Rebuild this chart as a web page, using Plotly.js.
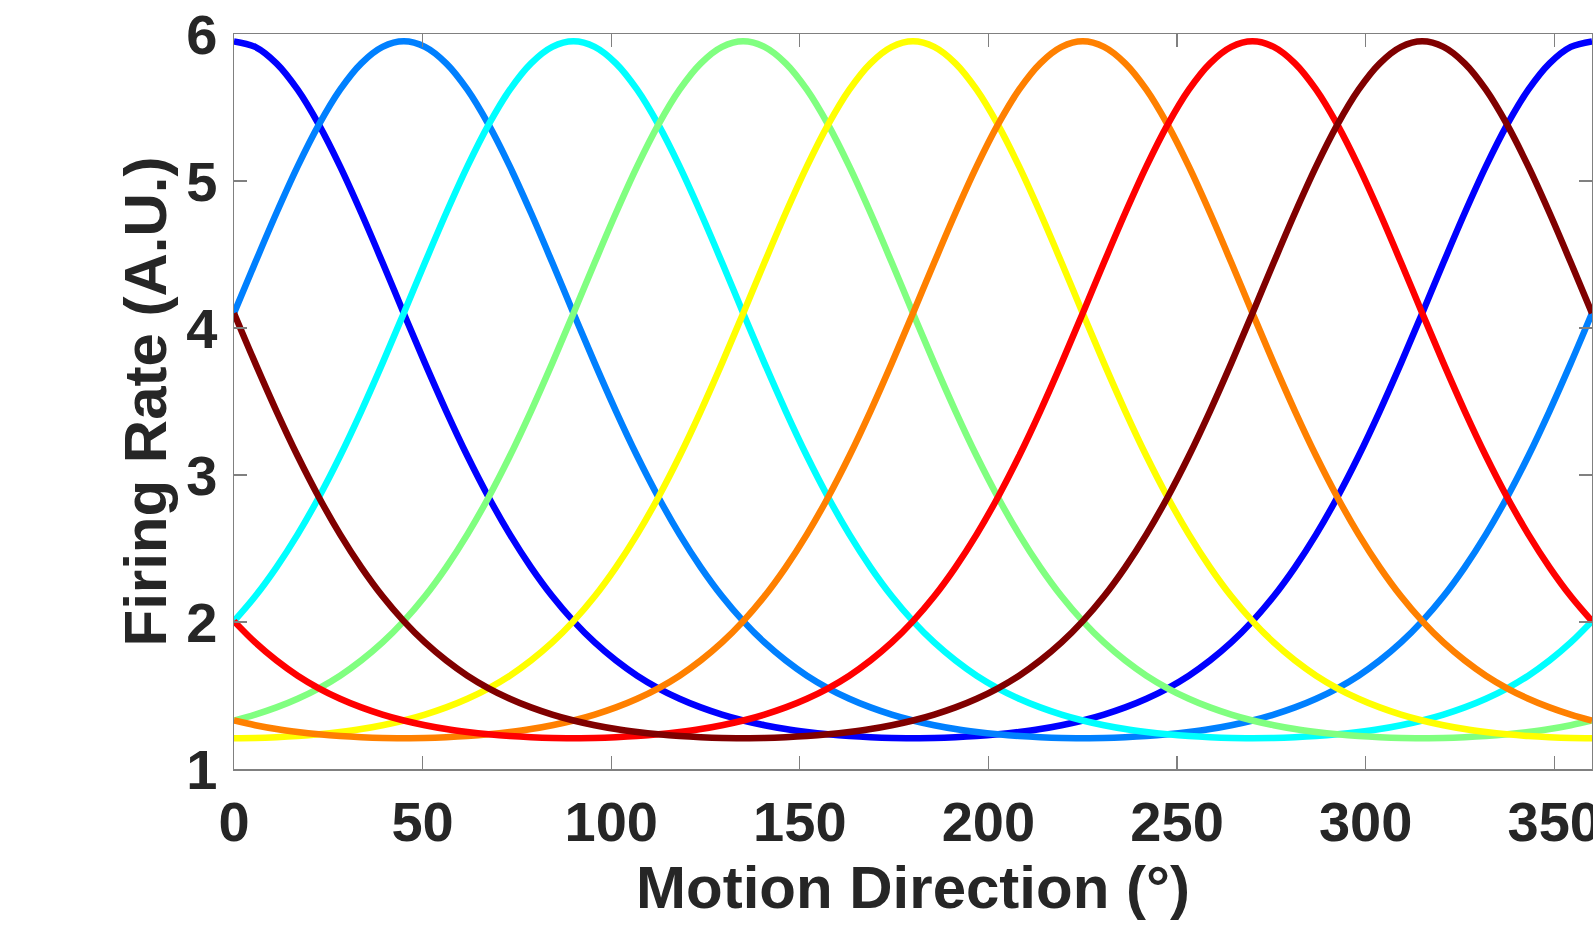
<!DOCTYPE html>
<html>
<head>
<meta charset="utf-8">
<script src="https://cdn.plot.ly/plotly-3.0.1.min.js"></script>
<style>html,body{margin:0;padding:0;background:#fff;}#chart{width:1593px;height:943px;}</style>
</head>
<body>
<div id="chart"></div>
<script>
// Motion direction samples (degrees)
const directions = [0,5.625,11.25,16.875,22.5,28.125,33.75,39.375,45,50.625,56.25,61.875,67.5,73.125,78.75,84.375,
  90,95.625,101.25,106.875,112.5,118.125,123.75,129.375,135,140.625,146.25,151.875,157.5,163.125,168.75,174.375,
  180,185.625,191.25,196.875,202.5,208.125,213.75,219.375,225,230.625,236.25,241.875,247.5,253.125,258.75,264.375,
  270,275.625,281.25,286.875,292.5,298.125,303.75,309.375,315,320.625,326.25,331.875,337.5,343.125,348.75,354.375,360];

// Firing rate of each tuning curve; preferred directions 0, 45, ..., 315
const pref0 = [
  5.950,5.912,5.800,5.621,5.383,5.099,4.782,4.445, 4.101,3.761,3.435,3.129,2.849,2.596,2.372,2.175,
  2.006,1.861,1.739,1.635,1.549,1.478,1.419,1.370, 1.330,1.298,1.272,1.252,1.236,1.224,1.216,1.211,
  1.210,1.211,1.216,1.224,1.236,1.252,1.272,1.298, 1.330,1.370,1.419,1.478,1.549,1.635,1.739,1.861,
  2.006,2.175,2.372,2.596,2.849,3.129,3.435,3.761, 4.101,4.445,4.782,5.099,5.383,5.621,5.800,5.912, 5.950];
const pref45 = [
  4.101,4.445,4.782,5.099,5.383,5.621,5.800,5.912, 5.950,5.912,5.800,5.621,5.383,5.099,4.782,4.445,
  4.101,3.761,3.435,3.129,2.849,2.596,2.372,2.175, 2.006,1.861,1.739,1.635,1.549,1.478,1.419,1.370,
  1.330,1.298,1.272,1.252,1.236,1.224,1.216,1.211, 1.210,1.211,1.216,1.224,1.236,1.252,1.272,1.298,
  1.330,1.370,1.419,1.478,1.549,1.635,1.739,1.861, 2.006,2.175,2.372,2.596,2.849,3.129,3.435,3.761, 4.101];
const pref90 = [
  2.006,2.175,2.372,2.596,2.849,3.129,3.435,3.761, 4.101,4.445,4.782,5.099,5.383,5.621,5.800,5.912,
  5.950,5.912,5.800,5.621,5.383,5.099,4.782,4.445, 4.101,3.761,3.435,3.129,2.849,2.596,2.372,2.175,
  2.006,1.861,1.739,1.635,1.549,1.478,1.419,1.370, 1.330,1.298,1.272,1.252,1.236,1.224,1.216,1.211,
  1.210,1.211,1.216,1.224,1.236,1.252,1.272,1.298, 1.330,1.370,1.419,1.478,1.549,1.635,1.739,1.861, 2.006];
const pref135 = [
  1.330,1.370,1.419,1.478,1.549,1.635,1.739,1.861, 2.006,2.175,2.372,2.596,2.849,3.129,3.435,3.761,
  4.101,4.445,4.782,5.099,5.383,5.621,5.800,5.912, 5.950,5.912,5.800,5.621,5.383,5.099,4.782,4.445,
  4.101,3.761,3.435,3.129,2.849,2.596,2.372,2.175, 2.006,1.861,1.739,1.635,1.549,1.478,1.419,1.370,
  1.330,1.298,1.272,1.252,1.236,1.224,1.216,1.211, 1.210,1.211,1.216,1.224,1.236,1.252,1.272,1.298, 1.330];
const pref180 = [
  1.210,1.211,1.216,1.224,1.236,1.252,1.272,1.298, 1.330,1.370,1.419,1.478,1.549,1.635,1.739,1.861,
  2.006,2.175,2.372,2.596,2.849,3.129,3.435,3.761, 4.101,4.445,4.782,5.099,5.383,5.621,5.800,5.912,
  5.950,5.912,5.800,5.621,5.383,5.099,4.782,4.445, 4.101,3.761,3.435,3.129,2.849,2.596,2.372,2.175,
  2.006,1.861,1.739,1.635,1.549,1.478,1.419,1.370, 1.330,1.298,1.272,1.252,1.236,1.224,1.216,1.211, 1.210];
const pref225 = [
  1.330,1.298,1.272,1.252,1.236,1.224,1.216,1.211, 1.210,1.211,1.216,1.224,1.236,1.252,1.272,1.298,
  1.330,1.370,1.419,1.478,1.549,1.635,1.739,1.861, 2.006,2.175,2.372,2.596,2.849,3.129,3.435,3.761,
  4.101,4.445,4.782,5.099,5.383,5.621,5.800,5.912, 5.950,5.912,5.800,5.621,5.383,5.099,4.782,4.445,
  4.101,3.761,3.435,3.129,2.849,2.596,2.372,2.175, 2.006,1.861,1.739,1.635,1.549,1.478,1.419,1.370, 1.330];
const pref270 = [
  2.006,1.861,1.739,1.635,1.549,1.478,1.419,1.370, 1.330,1.298,1.272,1.252,1.236,1.224,1.216,1.211,
  1.210,1.211,1.216,1.224,1.236,1.252,1.272,1.298, 1.330,1.370,1.419,1.478,1.549,1.635,1.739,1.861,
  2.006,2.175,2.372,2.596,2.849,3.129,3.435,3.761, 4.101,4.445,4.782,5.099,5.383,5.621,5.800,5.912,
  5.950,5.912,5.800,5.621,5.383,5.099,4.782,4.445, 4.101,3.761,3.435,3.129,2.849,2.596,2.372,2.175, 2.006];
const pref315 = [
  4.101,3.761,3.435,3.129,2.849,2.596,2.372,2.175, 2.006,1.861,1.739,1.635,1.549,1.478,1.419,1.370,
  1.330,1.298,1.272,1.252,1.236,1.224,1.216,1.211, 1.210,1.211,1.216,1.224,1.236,1.252,1.272,1.298,
  1.330,1.370,1.419,1.478,1.549,1.635,1.739,1.861, 2.006,2.175,2.372,2.596,2.849,3.129,3.435,3.761,
  4.101,4.445,4.782,5.099,5.383,5.621,5.800,5.912, 5.950,5.912,5.800,5.621,5.383,5.099,4.782,4.445, 4.101];

const curveNames = ['0°','45°','90°','135°','180°','225°','270°','315°'];
const curves = [pref0,pref45,pref90,pref135,pref180,pref225,pref270,pref315];
const colors = ['#0000ff','#0080ff','#00ffff','#80ff80','#ffff00','#ff8000','#ff0000','#800000'];

const xTicks = [0,50,100,150,200,250,300,350];
const yTicks = [1,2,3,4,5,6];

const traces = curves.map((ys,i)=>({
  x: directions, y: ys, type:'scatter', mode:'lines', name: curveNames[i],
  line:{color:colors[i], width:6.5, shape:'spline', smoothing:1, simplify:false},
  hoverinfo:'x+y'
}));

const font = {family:'"Liberation Sans", Arial, Helvetica, sans-serif', color:'#262626', weight:'bold'};
const axisCommon = {
  showgrid:false, zeroline:false, showline:true, linecolor:'#808080', linewidth:1.5,
  mirror:'ticks', ticks:'inside', ticklen:13, tickwidth:1.2, tickcolor:'#808080',
  ticklabeloverflow:'allow',
  tickfont:Object.assign({size:56}, font)
};

const layout = {
  width:1593, height:943,
  margin:{l:234, r:1, t:34, b:174},
  paper_bgcolor:'#ffffff', plot_bgcolor:'#ffffff',
  showlegend:false,
  xaxis:Object.assign({}, axisCommon, {
    range:[0,360], tickvals:xTicks, ticktext:xTicks.map(String),
    ticklabelstandoff:3,
    title:{text:'Motion Direction (°)', font:Object.assign({size:60}, font), standoff:14}
  }),
  yaxis:Object.assign({}, axisCommon, {
    range:[1,6], tickvals:yTicks, ticktext:yTicks.map(String),
    ticklabelstandoff:4,
    title:{text:'Firing Rate (A.U.)', font:Object.assign({size:60}, font), standoff:0}
  })
};

Plotly.newPlot('chart', traces, layout, {displayModeBar:false, staticPlot:true});
</script>
</body>
</html>
